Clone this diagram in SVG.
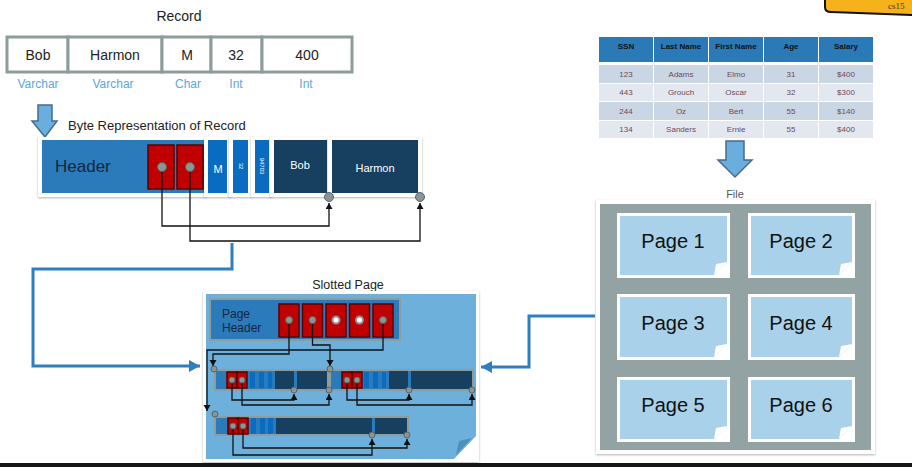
<svg xmlns="http://www.w3.org/2000/svg" width="912" height="467" viewBox="0 0 912 467">
<defs>
<filter id="sh" x="-10%" y="-10%" width="120%" height="130%"><feDropShadow dx="0" dy="1" stdDeviation="1.2" flood-color="#000" flood-opacity="0.3"/></filter>
<marker id="ab" markerUnits="userSpaceOnUse" markerWidth="8" markerHeight="8" refX="6" refY="3.5" orient="auto"><path d="M0,0 L6,3.5 L0,7 Z" fill="#111"/></marker>
<marker id="abl" markerUnits="userSpaceOnUse" markerWidth="14" markerHeight="14" refX="11" refY="6" orient="auto"><path d="M0,0 L11,6 L0,12 Z" fill="#2e7fc0"/></marker>
</defs>
<style>
text{font-family:"Liberation Sans",Arial,sans-serif}
.cell{fill:#fff;stroke:#8e9c9c;stroke-width:3}
.rt{font-size:14px;fill:#222;text-anchor:middle}
.ty{font-size:12px;fill:#5aa8dc;text-anchor:middle}
.hb{fill:#2b7bba}
.lb{fill:#0a6cc0}
.nv{fill:#173f5f}
.rd{fill:#c00000;stroke:#5a0000;stroke-width:1.5}
.dot{fill:#8a9696;stroke:#5a6464;stroke-width:1}
.wc{fill:#fff;filter:url(#sh)}
.wt{fill:#fff;text-anchor:middle}
.bl{fill:none;stroke:#111;stroke-width:1.3}
.blue{fill:none;stroke:#2e7fc0;stroke-width:3}
.rec{fill:#2b7bba;stroke:#8e9c9c;stroke-width:2}
.th{font-size:8px;font-weight:bold;fill:#111;text-anchor:middle}
.td{font-size:8px;fill:#6a4a5a;text-anchor:middle}
.pg{fill:#a9d1ea}
.pt{font-size:20px;fill:#111;text-anchor:middle}
.serif{font-family:"Liberation Serif","Times New Roman",serif}
</style>
<rect x="0" y="0" width="912" height="467" fill="#fff"/>

<!-- corner tag -->
<g id="corner-tag">
<path d="M825,-3 V7 Q825,12 831,12 L914,15 V-3 Z" fill="#f6b21b" stroke="#111" stroke-width="2"/>
<text x="888" y="9" class="serif" font-size="9" fill="#333">cs15</text>
</g>

<!-- Record -->
<g id="record">
<text x="179" y="21" class="rt">Record</text>
<rect x="7" y="37" width="61" height="35" class="cell"/>
<rect x="68" y="37" width="94" height="35" class="cell"/>
<rect x="162" y="37" width="49" height="35" class="cell"/>
<rect x="211" y="37" width="51" height="35" class="cell"/>
<rect x="262" y="37" width="90" height="35" class="cell"/>
<text x="38" y="60" class="rt">Bob</text>
<text x="115" y="60" class="rt">Harmon</text>
<text x="187" y="60" class="rt">M</text>
<text x="236" y="60" class="rt">32</text>
<text x="307" y="60" class="rt">400</text>
<text x="38" y="88" class="ty">Varchar</text>
<text x="113" y="88" class="ty">Varchar</text>
<text x="188" y="88" class="ty">Char</text>
<text x="236" y="88" class="ty">Int</text>
<text x="306" y="88" class="ty">Int</text>
</g>

<!-- down arrow left -->
<g id="arrow-record">
<path d="M38,105 H52 V121 H57 L45,137 L32,121 H38 Z" fill="#6aaee0" stroke="#4a6a8a" stroke-width="1.5"/>
</g>

<!-- Byte representation -->
<g id="byte-rep">
<text x="68" y="130" font-size="13" fill="#222">Byte Representation of Record</text>
<rect x="38" y="137" width="168" height="60" class="wc"/>
<rect x="42" y="140" width="163" height="53" class="hb"/>
<text x="55" y="172" font-size="17" fill="#15263a">Header</text>
<rect x="148" y="145" width="26" height="44" class="rd"/>
<rect x="177" y="145" width="26" height="44" class="rd"/>
<rect x="204" y="137" width="27" height="60" class="wc"/>
<rect x="208" y="140" width="19" height="53" class="lb"/>
<text x="218" y="173" font-size="11" class="wt">M</text>
<rect x="229" y="137" width="23" height="60" class="wc"/>
<rect x="233" y="140" width="15" height="53" class="lb"/>
<text transform="translate(238.5,166) rotate(90)" font-size="6" class="wt">32</text>
<rect x="251" y="137" width="21" height="60" class="wc"/>
<rect x="255" y="140" width="14" height="53" class="lb"/>
<text transform="translate(260,166) rotate(90)" font-size="6" class="wt">94703</text>
<rect x="270" y="137" width="61" height="60" class="wc"/>
<rect x="274" y="140" width="53" height="53" class="nv"/>
<text x="300" y="169" font-size="11" class="wt">Bob</text>
<rect x="328" y="137" width="94" height="60" class="wc"/>
<rect x="332" y="140" width="86" height="53" class="nv"/>
<text x="375" y="172" font-size="11" class="wt">Harmon</text>
</g>

<!-- Table -->
<g id="table">
<rect x="599" y="37" width="54" height="25" fill="#2a7ab8"/>
<rect x="654" y="37" width="54" height="25" fill="#2a7ab8"/>
<rect x="709" y="37" width="54" height="25" fill="#2a7ab8"/>
<rect x="764" y="37" width="54" height="25" fill="#2a7ab8"/>
<rect x="819" y="37" width="54" height="25" fill="#2a7ab8"/>
<text x="626" y="49" class="th">SSN</text>
<text x="681" y="49" class="th">Last Name</text>
<text x="736" y="49" class="th">First Name</text>
<text x="791" y="49" class="th">Age</text>
<text x="846" y="49" class="th">Salary</text>
<g fill="#cbd6e5">
<rect x="599" y="65" width="54" height="18"/><rect x="654" y="65" width="54" height="18"/><rect x="709" y="65" width="54" height="18"/><rect x="764" y="65" width="54" height="18"/><rect x="819" y="65" width="54" height="18"/>
<rect x="599" y="102" width="54" height="18"/><rect x="654" y="102" width="54" height="18"/><rect x="709" y="102" width="54" height="18"/><rect x="764" y="102" width="54" height="18"/><rect x="819" y="102" width="54" height="18"/>
</g>
<g fill="#e3e8f0">
<rect x="599" y="84" width="54" height="17"/><rect x="654" y="84" width="54" height="17"/><rect x="709" y="84" width="54" height="17"/><rect x="764" y="84" width="54" height="17"/><rect x="819" y="84" width="54" height="17"/>
<rect x="599" y="121" width="54" height="17"/><rect x="654" y="121" width="54" height="17"/><rect x="709" y="121" width="54" height="17"/><rect x="764" y="121" width="54" height="17"/><rect x="819" y="121" width="54" height="17"/>
</g>
<text x="626" y="77" class="td">123</text><text x="681" y="77" class="td">Adams</text><text x="736" y="77" class="td">Elmo</text><text x="791" y="77" class="td">31</text><text x="846" y="77" class="td">$400</text>
<text x="626" y="95" class="td">443</text><text x="681" y="95" class="td">Grouch</text><text x="736" y="95" class="td">Oscar</text><text x="791" y="95" class="td">32</text><text x="846" y="95" class="td">$300</text>
<text x="626" y="114" class="td">244</text><text x="681" y="114" class="td">Oz</text><text x="736" y="114" class="td">Bert</text><text x="791" y="114" class="td">55</text><text x="846" y="114" class="td">$140</text>
<text x="626" y="132" class="td">134</text><text x="681" y="132" class="td">Sanders</text><text x="736" y="132" class="td">Ernie</text><text x="791" y="132" class="td">55</text><text x="846" y="132" class="td">$400</text>
</g>

<!-- down arrow right -->
<g id="arrow-table">
<path d="M726,141 H744 V160 H752 L735,177 L718,160 H726 Z" fill="#6aaee0" stroke="#4a6a8a" stroke-width="1.5"/>
</g>

<!-- File -->
<g id="file">
<text x="735" y="198" font-size="11" fill="#555" text-anchor="middle">File</text>
<rect x="596" y="200" width="279" height="254" fill="#fff" filter="url(#sh)"/>
<rect x="600" y="204" width="271" height="246" fill="#93a3a3"/>
<g id="page1"><rect x="617" y="213" width="113" height="65" fill="#fff"/><path d="M620,216 H727 V262 L714,275 H620 Z" class="pg"/><path d="M714,275 L727,262 L716,264 Z" fill="#fff"/><text x="673" y="248" class="pt">Page 1</text></g>
<g id="page2"><rect x="748" y="213" width="107" height="65" fill="#fff"/><path d="M751,216 H852 V262 L839,275 H751 Z" class="pg"/><path d="M839,275 L852,262 L841,264 Z" fill="#fff"/><text x="801" y="248" class="pt">Page 2</text></g>
<g id="page3"><rect x="617" y="294" width="113" height="66" fill="#fff"/><path d="M620,297 H727 V344 L714,357 H620 Z" class="pg"/><path d="M714,357 L727,344 L716,346 Z" fill="#fff"/><text x="673" y="330" class="pt">Page 3</text></g>
<g id="page4"><rect x="748" y="294" width="107" height="66" fill="#fff"/><path d="M751,297 H852 V344 L839,357 H751 Z" class="pg"/><path d="M839,357 L852,344 L841,346 Z" fill="#fff"/><text x="801" y="330" class="pt">Page 4</text></g>
<g id="page5"><rect x="617" y="377" width="113" height="65" fill="#fff"/><path d="M620,380 H727 V426 L714,439 H620 Z" class="pg"/><path d="M714,439 L727,426 L716,428 Z" fill="#fff"/><text x="673" y="412" class="pt">Page 5</text></g>
<g id="page6"><rect x="748" y="377" width="107" height="65" fill="#fff"/><path d="M751,380 H852 V426 L839,439 H751 Z" class="pg"/><path d="M839,439 L852,426 L841,428 Z" fill="#fff"/><text x="801" y="412" class="pt">Page 6</text></g>
</g>

<!-- Slotted page -->
<g id="slotted-page">
<text x="348" y="289" font-size="12.5" fill="#222" text-anchor="middle">Slotted Page</text>
<rect x="203" y="291" width="276" height="171" fill="#fff" filter="url(#sh)"/>
<path d="M206,294 H476 V436 L454,459 H206 Z" fill="#6eb0dc"/>
<path d="M456,455 L472,438 L459,441 Z" fill="#4f8fba"/>
<rect x="210" y="299" width="190" height="41" class="rec"/>
<text x="222" y="318" font-size="12" fill="#15263a">Page</text>
<text x="222" y="332" font-size="12" fill="#15263a">Header</text>
<rect x="279" y="304" width="20" height="33" class="rd"/>
<rect x="302.5" y="304" width="20" height="33" class="rd"/>
<rect x="326" y="304" width="20" height="33" class="rd"/>
<rect x="349.5" y="304" width="20" height="33" class="rd"/>
<rect x="373" y="304" width="20" height="33" class="rd"/>

<!-- record 1 -->
<rect x="215" y="370" width="113" height="20" class="rec"/>
<rect x="227" y="372" width="10" height="16" class="rd"/>
<rect x="237" y="372" width="10" height="16" class="rd"/>
<rect x="250" y="372" width="5" height="16" class="lb"/><rect x="259" y="372" width="5" height="16" class="lb"/><rect x="268" y="372" width="4" height="16" class="lb"/>
<rect x="275" y="371" width="19" height="18" class="nv"/><rect x="297" y="371" width="30" height="18" class="nv"/>
<!-- record 2 -->
<rect x="330" y="370" width="143" height="20" class="rec"/>
<rect x="342" y="372" width="10" height="16" class="rd"/>
<rect x="352" y="372" width="10" height="16" class="rd"/>
<rect x="364" y="372" width="5" height="16" class="lb"/><rect x="373" y="372" width="5" height="16" class="lb"/><rect x="382" y="372" width="4" height="16" class="lb"/>
<rect x="389" y="371" width="19" height="18" class="nv"/><rect x="411" y="371" width="61" height="18" class="nv"/>
<!-- record 3 -->
<rect x="215" y="417" width="193" height="18" class="rec"/>
<rect x="228" y="418" width="10" height="16" class="rd"/>
<rect x="238" y="418" width="10" height="16" class="rd"/>
<rect x="251" y="418" width="5" height="16" class="lb"/><rect x="260" y="418" width="5" height="16" class="lb"/><rect x="268" y="418" width="5" height="16" class="lb"/>
<rect x="276" y="418" width="96" height="16" class="nv"/><rect x="375" y="418" width="32" height="16" class="nv"/>
</g>

<!-- connectors -->
<g id="connectors">
<path d="M162,167 V226 H329 V203" class="bl" marker-end="url(#ab)"/>
<path d="M190,167 V241 H420 V203" class="bl" marker-end="url(#ab)"/>
<path d="M289,320 V354 H213 V366" class="bl" marker-end="url(#ab)"/>
<path d="M312.5,320 V345 H330 V366" class="bl" marker-end="url(#ab)"/>
<path d="M383,320 V350 H207 V411" class="bl" marker-end="url(#ab)"/>
<path d="M232,380 V400 H294 V394" class="bl" marker-end="url(#ab)"/>
<path d="M242,380 V405 H329 V394" class="bl" marker-end="url(#ab)"/>
<path d="M347,380 V400 H409 V394" class="bl" marker-end="url(#ab)"/>
<path d="M357,380 V405 H472 V394" class="bl" marker-end="url(#ab)"/>
<path d="M233,426 V455 H372 V439" class="bl" marker-end="url(#ab)"/>
<path d="M243,426 V448 H407 V439" class="bl" marker-end="url(#ab)"/>
<path d="M232,243 V269 H33 V366 H200" class="blue" marker-end="url(#abl)"/>
<path d="M595,316 H529 V367 H481" class="blue" marker-end="url(#abl)"/>
<!-- dots -->
<circle cx="162" cy="167" r="4.5" class="dot"/>
<circle cx="190" cy="167" r="4.5" class="dot"/>
<circle cx="329" cy="197" r="4.5" class="dot"/>
<circle cx="420" cy="197" r="4.5" class="dot"/>
<circle cx="289" cy="320" r="3.5" class="dot"/>
<circle cx="312.5" cy="320" r="3.5" class="dot"/>
<circle cx="336" cy="320" r="3.5" fill="#fff" stroke="#8a9696" stroke-width="2"/>
<circle cx="359.5" cy="320" r="3.5" fill="#fff" stroke="#8a9696" stroke-width="2"/>
<circle cx="383" cy="320" r="3.5" class="dot"/>
<circle cx="214" cy="369" r="3" class="dot"/>
<circle cx="330" cy="369" r="3" class="dot"/>
<circle cx="215" cy="414" r="3" class="dot"/>
<circle cx="232" cy="380" r="3" class="dot"/>
<circle cx="242" cy="380" r="3" class="dot"/>
<circle cx="347" cy="380" r="3" class="dot"/>
<circle cx="357" cy="380" r="3" class="dot"/>
<circle cx="294" cy="390" r="3" class="dot"/>
<circle cx="329" cy="390" r="3" class="dot"/>
<circle cx="409" cy="390" r="3" class="dot"/>
<circle cx="472" cy="390" r="3" class="dot"/>
<circle cx="233" cy="426" r="3" class="dot"/>
<circle cx="243" cy="426" r="3" class="dot"/>
<circle cx="372" cy="435" r="3" class="dot"/>
<circle cx="407" cy="435" r="3" class="dot"/>
</g>

<rect x="0" y="463" width="912" height="4" fill="#161616"/>
</svg>
